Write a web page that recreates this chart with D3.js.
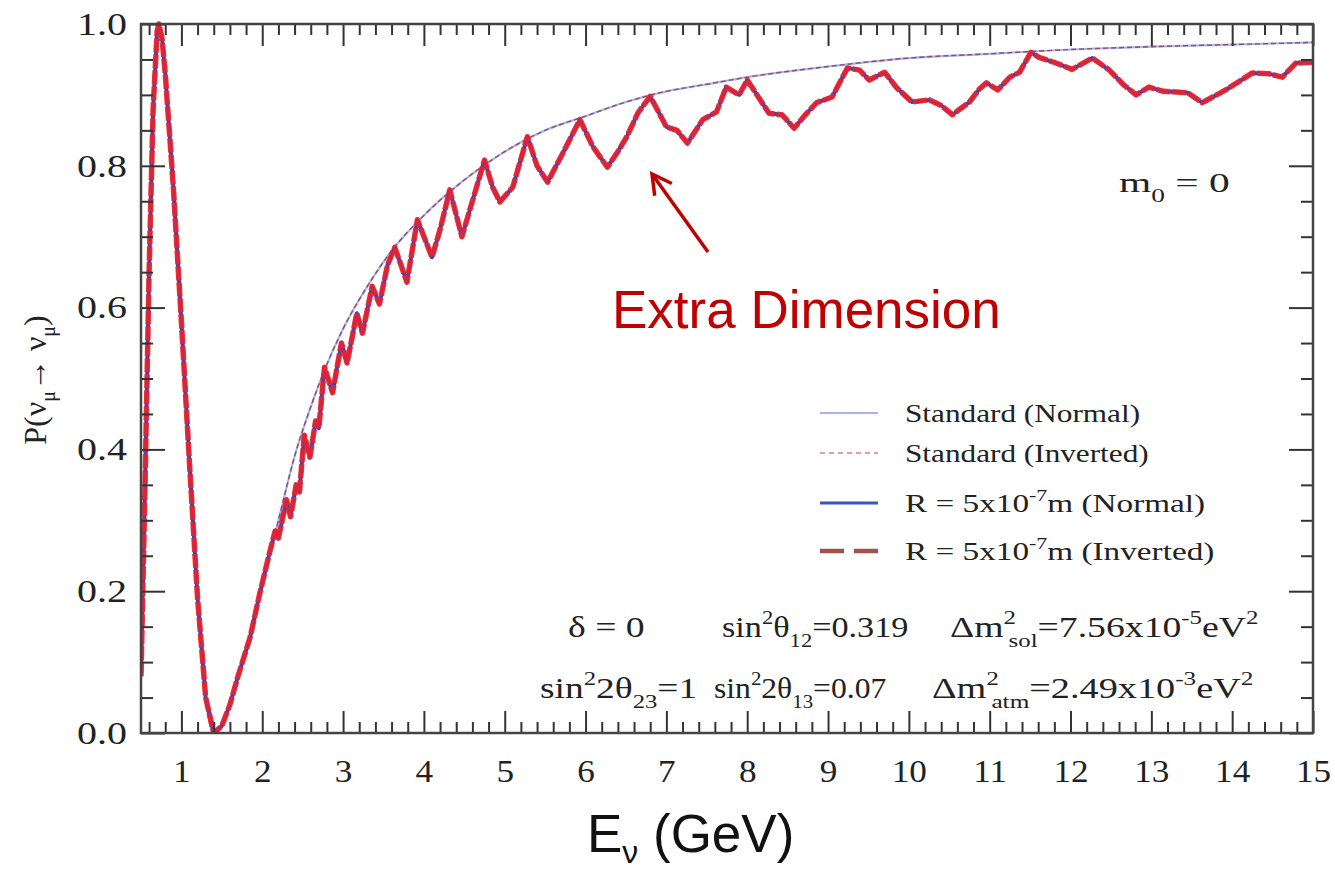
<!DOCTYPE html>
<html>
<head>
<meta charset="utf-8">
<script src="https://cdn.jsdelivr.net/npm/d3@7"></script>
<style>
  body { margin: 0; background: #fff; }
  svg { display: block; }
</style>
</head>
<body>
<svg id="drawing_region"></svg>
<script>
// values: E (GeV) and survival probability
const stdEnergy = [0.5,0.55,0.6,0.65,0.7,0.72,0.76,0.8,0.9,1.0,1.1,1.2,1.3,1.4,1.5,1.6,1.7,1.85,2.0,2.2,2.4,2.6,2.8,3.0,3.3,3.6,4.0,4.5,5.0,5.5,6.0,6.5,7.0,7.5,8.0,9.0,10.0,11.0,12.0,13.0,14.0,15.0]
const stdProb = [0.08,0.35,0.65,0.88,0.99,1.0,0.98,0.93,0.77,0.58,0.38,0.19,0.05,0.0,0.01,0.04,0.08,0.14,0.21,0.30,0.39,0.46,0.52,0.57,0.63,0.68,0.73,0.78,0.82,0.85,0.87,0.89,0.905,0.915,0.925,0.94,0.952,0.958,0.964,0.968,0.971,0.974]

const edEnergy = [0.5,0.55,0.6,0.65,0.7,0.72,0.76,0.8,0.9,1.0,1.1,1.2,1.3,1.4,1.5,1.6,1.7,1.85,1.97,2.09,2.16,2.2,2.3,2.35,2.42,2.46,2.52,2.59,2.66,2.7,2.77,2.87,2.98,3.05,3.17,3.24,3.36,3.45,3.55,3.64,3.79,3.92,4.1,4.2,4.32,4.47,4.6,4.75,4.85,4.94,5.1,5.28,5.4,5.53,5.72,5.93,6.09,6.27,6.4,6.51,6.65,6.8,7.0,7.13,7.26,7.45,7.62,7.74,7.9,8.0,8.15,8.27,8.43,8.58,8.72,8.86,9.05,9.24,9.39,9.51,9.7,9.85,10.04,10.25,10.4,10.54,10.62,10.75,10.87,10.96,11.1,11.25,11.37,11.51,11.61,11.82,12.02,12.27,12.48,12.65,12.81,12.97,13.15,13.31,13.45,13.63,13.92,14.1,14.25,14.45,14.62,14.79,15.0]
const edProb = [0.08,0.35,0.65,0.88,0.99,1.0,0.98,0.93,0.77,0.58,0.38,0.19,0.05,0.0,0.01,0.04,0.08,0.135,0.197,0.254,0.285,0.275,0.329,0.305,0.35,0.34,0.42,0.389,0.44,0.43,0.516,0.48,0.55,0.522,0.592,0.564,0.63,0.605,0.66,0.685,0.636,0.724,0.671,0.71,0.766,0.70,0.75,0.808,0.77,0.749,0.77,0.841,0.80,0.777,0.818,0.865,0.827,0.798,0.82,0.841,0.875,0.898,0.855,0.85,0.832,0.865,0.876,0.911,0.90,0.921,0.895,0.874,0.872,0.853,0.872,0.889,0.897,0.938,0.935,0.921,0.932,0.91,0.89,0.893,0.885,0.872,0.879,0.89,0.908,0.917,0.907,0.925,0.932,0.96,0.953,0.945,0.936,0.952,0.935,0.915,0.90,0.911,0.905,0.904,0.903,0.889,0.907,0.92,0.931,0.93,0.925,0.945,0.946]

const xTicks = [1,2,3,4,5,6,7,8,9,10,11,12,13,14,15]
const yTicks = [0,0.2,0.4,0.6,0.8,1.0]
const legendLabels = ['Standard (Normal)', 'Standard (Inverted)', 'R = 5x10|-7|m (Normal)', 'R = 5x10|-7|m (Inverted)']

const W = 1335, H = 869
const frame = {left: 141, right: 1313, top: 24, bottom: 733}
const serif = '"Liberation Serif", "Times New Roman", serif'
const sans = '"Liberation Sans", Arial, sans-serif'

const svg = d3.select('#drawing_region').attr('width', W).attr('height', H)
svg.append('rect').attr('width', W).attr('height', H).attr('fill', '#fff')

const x = d3.scaleLinear().domain([0.5, 15]).range([frame.left, frame.right])
const y = d3.scaleLinear().domain([0, 1]).range([frame.bottom, frame.top])

// curves
svg.append('clipPath').attr('id', 'clip').append('rect')
  .attr('x', frame.left).attr('y', frame.top - 3)
  .attr('width', frame.right - frame.left).attr('height', frame.bottom - frame.top + 3)

const plot = svg.append('g').attr('clip-path', 'url(#clip)')
const stdData = stdEnergy.map((e, i) => [e, stdProb[i]])
const edData = edEnergy.map((e, i) => [e, edProb[i]])
const smooth = d3.line().x(d => x(d[0])).y(d => y(d[1])).curve(d3.curveMonotoneX)
const jagged = d3.line().x(d => x(d[0])).y(d => y(d[1]))

plot.append('path').attr('d', smooth(stdData)).attr('fill', 'none')
  .attr('stroke', '#a9b5ea').attr('stroke-width', 2.2)
plot.append('path').attr('d', smooth(stdData)).attr('fill', 'none')
  .attr('stroke', '#9a4a6a').attr('stroke-width', 1.4).attr('stroke-dasharray', '5,3')
plot.append('path').attr('d', jagged(edData)).attr('fill', 'none')
  .attr('stroke', '#2f48c4').attr('stroke-width', 4).attr('stroke-linejoin', 'round')
plot.append('path').attr('d', jagged(edData)).attr('fill', 'none')
  .attr('stroke', '#e8232c').attr('stroke-width', 5.5).attr('stroke-dasharray', '14,2')
  .attr('stroke-linejoin', 'round').attr('opacity', 0.92)

// axes with inward ticks on all four sides
const xMinor = d3.range(0.6, 15, 0.2).filter(v => Math.abs(v - Math.round(v)) > 0.05)
const yMinor = d3.range(0.05, 1, 0.05).filter(v => Math.abs(v * 5 - Math.round(v * 5)) > 0.05)

function tickStyle(g){
  g.select('.domain').remove()
  g.selectAll('line').attr('stroke', '#333').attr('stroke-width', 2)
  g.selectAll('text').attr('font-family', serif).attr('font-size', 32).attr('fill', '#222')
}
// widen labels a little, the pasted plot is stretched sideways
function widen(sel, k){
  sel.each(function(){
    const w = this.getComputedTextLength()
    d3.select(this).attr('textLength', w * k).attr('lengthAdjust', 'spacingAndGlyphs')
  })
}

svg.append('g').attr('transform', `translate(0,${frame.bottom})`)
  .call(d3.axisBottom(x).tickValues(xTicks).tickSize(-22).tickPadding(26).tickFormat(d3.format('d')))
  .call(tickStyle)
  .selectAll('text').attr('dy', '0.71em').call(widen, 1.1)
svg.append('g').attr('transform', `translate(0,${frame.bottom})`)
  .call(d3.axisBottom(x).tickValues(xMinor).tickSize(-11).tickFormat('')).call(tickStyle)
svg.append('g').attr('transform', `translate(0,${frame.top})`)
  .call(d3.axisTop(x).tickValues(xTicks).tickSize(-22).tickFormat('')).call(tickStyle)
svg.append('g').attr('transform', `translate(0,${frame.top})`)
  .call(d3.axisTop(x).tickValues(xMinor).tickSize(-11).tickFormat('')).call(tickStyle)

svg.append('g').attr('transform', `translate(${frame.left},0)`)
  .call(d3.axisLeft(y).tickValues(yTicks).tickSize(-24).tickPadding(14).tickFormat(d3.format('.1f')))
  .call(tickStyle)
  .selectAll('text').call(widen, 1.25)
svg.append('g').attr('transform', `translate(${frame.left},0)`)
  .call(d3.axisLeft(y).tickValues(yMinor).tickSize(-12).tickFormat('')).call(tickStyle)
svg.append('g').attr('transform', `translate(${frame.right},0)`)
  .call(d3.axisRight(y).tickValues(yTicks).tickSize(-24).tickFormat('')).call(tickStyle)
svg.append('g').attr('transform', `translate(${frame.right},0)`)
  .call(d3.axisRight(y).tickValues(yMinor).tickSize(-12).tickFormat('')).call(tickStyle)

svg.append('rect')
  .attr('x', frame.left).attr('y', frame.top)
  .attr('width', frame.right - frame.left).attr('height', frame.bottom - frame.top)
  .attr('fill', 'none').attr('stroke', '#444').attr('stroke-width', 2.5)

// rich text helper: parts are [text, 'n' | 'sup' | 'sub' | 'under']
function rich(parent, px, py, size, parts, opts = {}){
  const g = parent.append('g')
    .attr('transform', `translate(${px},${py}) scale(${opts.sx || 1},1)`)
  const t = g.append('text').attr('font-family', opts.family || serif)
    .attr('font-size', size).attr('fill', opts.fill || '#222')
  const subDrop = opts.subDrop || 0.36, subSize = opts.subSize || 0.66
  let off = 0, lastSup = null
  parts.forEach(([str, mode]) => {
    let target = 0, fs = size, dx = 0
    if(mode === 'sup'){ target = -0.44 * size; fs = 0.66 * size }
    if(mode === 'sub' || mode === 'under'){ target = subDrop * size; fs = subSize * size }
    if(mode === 'under' && lastSup) dx = -lastSup.node().getComputedTextLength() * 0.6
    const ts = t.append('tspan').attr('dy', target - off).attr('font-size', fs).text(str)
    if(dx) ts.attr('dx', dx)
    off = target
    lastSup = mode === 'sup' ? ts : null
  })
  return t
}

// y-axis title
const yl = svg.append('g').attr('transform', 'translate(46,380) rotate(-90)')
const ylt = yl.append('text').attr('font-family', serif).attr('font-size', 32)
  .attr('fill', '#222').attr('text-anchor', 'middle')
ylt.append('tspan').text('P(ν')
ylt.append('tspan').attr('font-size', 20).attr('dy', 9).text('μ')
ylt.append('tspan').attr('dy', -9).text('→ ν')
ylt.append('tspan').attr('font-size', 20).attr('dy', 9).text('μ')
ylt.append('tspan').attr('dy', -9).text(')')

// x-axis title
rich(svg, 587, 852, 53, [['E', 'n'], ['ν', 'sub'], [' (GeV)', 'n']],
  {family: sans, fill: '#111', subDrop: 0.2, subSize: 0.6})

// legend
const legendY = [413, 453, 503, 551]
const legendStretch = [1.25, 1.25, 1.33, 1.33]
const legendStyle = [
  {stroke: '#aab6e8', width: 2, dash: null},
  {stroke: '#d47f86', width: 1.6, dash: '5,4'},
  {stroke: '#3a55c2', width: 3, dash: null},
  {stroke: '#a25050', width: 4.5, dash: '24,10'}
]
legendLabels.forEach((lab, i) => {
  const s = legendStyle[i]
  svg.append('line').attr('x1', 820).attr('x2', 878)
    .attr('y1', legendY[i]).attr('y2', legendY[i])
    .attr('stroke', s.stroke).attr('stroke-width', s.width)
    .attr('stroke-dasharray', s.dash)
  const bits = lab.split('|')
  const parts = bits.length === 1 ? [[lab, 'n']] : [[bits[0], 'n'], [bits[1], 'sup'], [bits[2], 'n']]
  rich(svg, 905, legendY[i] + 9, 25, parts, {sx: legendStretch[i]})
})

// annotations inside the frame
const annoSize = 29
rich(svg, 1119, 192, 28, [['m', 'n'], ['0', 'sub'], [' = 0', 'n']], {sx: 1.48})
rich(svg, 568, 637, annoSize, [['δ = 0', 'n']], {sx: 1.3})
rich(svg, 722, 637, annoSize, [['sin', 'n'], ['2', 'sup'], ['θ', 'n'], ['12', 'sub'], ['=0.319', 'n']], {sx: 1.18})
rich(svg, 950, 637, annoSize, [['Δm', 'n'], ['2', 'sup'], ['sol', 'under'], ['=7.56x10', 'n'], ['-5', 'sup'], ['eV', 'n'], ['2', 'sup']], {sx: 1.3})
rich(svg, 540, 698, annoSize, [['sin', 'n'], ['2', 'sup'], ['2θ', 'n'], ['23', 'sub'], ['=1', 'n']], {sx: 1.29})
rich(svg, 714, 698, annoSize, [['sin', 'n'], ['2', 'sup'], ['2θ', 'n'], ['13', 'sub'], ['=0.07', 'n']], {sx: 1.09})
rich(svg, 932, 698, annoSize, [['Δm', 'n'], ['2', 'sup'], ['atm', 'under'], ['=2.49x10', 'n'], ['-3', 'sup'], ['eV', 'n'], ['2', 'sup']], {sx: 1.32})

// "Extra Dimension" callout
const red = '#c00000'
svg.append('text').attr('x', 612).attr('y', 328)
  .attr('font-family', sans).attr('font-size', 53).attr('fill', red)
  .text('Extra Dimension')
const tip = [652, 174], tail = [708, 252]
const ang = Math.atan2(tail[1] - tip[1], tail[0] - tip[0])
const wing = 22, spread = 0.5
svg.append('line').attr('x1', tail[0]).attr('y1', tail[1]).attr('x2', tip[0]).attr('y2', tip[1])
  .attr('stroke', red).attr('stroke-width', 3.5)
svg.append('path')
  .attr('d', `M${tip[0] + wing * Math.cos(ang - spread)},${tip[1] + wing * Math.sin(ang - spread)}L${tip[0]},${tip[1]}L${tip[0] + wing * Math.cos(ang + spread)},${tip[1] + wing * Math.sin(ang + spread)}`)
  .attr('fill', 'none').attr('stroke', red).attr('stroke-width', 3.5)
</script>
</body>
</html>
